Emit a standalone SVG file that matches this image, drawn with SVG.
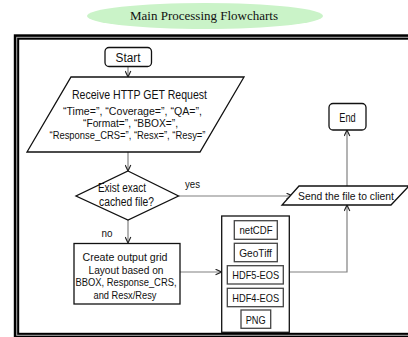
<svg xmlns="http://www.w3.org/2000/svg" width="408" height="337" viewBox="0 0 408 337">
<style>
text{font-family:"Liberation Sans",Arial,sans-serif;fill:#111;text-anchor:middle}
.title{font-family:"Liberation Serif","Times New Roman",serif;font-size:13px}
.n{fill:#fff;stroke:#111;stroke-width:1.3}
.f{fill:#fff;stroke:#444;stroke-width:1.3}
.c{fill:none;stroke:#808080;stroke-width:1.2}
.s11{font-size:11.5px}
.s12{font-size:12.5px}
</style>
<defs>
<marker id="ah" viewBox="0 0 10 10" refX="9.5" refY="5" markerWidth="7" markerHeight="7" orient="auto" markerUnits="userSpaceOnUse">
<path d="M1,1 L9.5,5 L1,9" fill="none" stroke="#222" stroke-width="1.6"/>
</marker>
</defs>
<rect width="408" height="337" fill="#fff"/>
<g id="title">
<ellipse cx="205" cy="16" rx="118" ry="13" fill="#caf3c8"/>
<text class="title" x="204" y="20">Main Processing Flowcharts</text>
</g>
<g id="frame">
<rect x="16.5" y="37" width="420" height="298.5" fill="none" stroke="#000" stroke-width="5.4"/>
<rect x="16.7" y="37.3" width="420" height="298" fill="none" stroke="#b0b0b0" stroke-width="1"/>
</g>
<g id="connectors">
<path class="c" d="M128,67 V77" marker-end="url(#ah)"/>
<path class="c" d="M128,152 V171" marker-end="url(#ah)"/>
<path class="c" d="M178.5,196 H292.5" marker-end="url(#ah)"/>
<path class="c" d="M128,220 V243" marker-end="url(#ah)"/>
<path class="c" d="M180,272 H221.5" marker-end="url(#ah)"/>
<path class="c" d="M289.5,272 H347 V205" marker-end="url(#ah)"/>
<path class="c" d="M347,186 V130" marker-end="url(#ah)"/>
<text class="s11" x="192.5" y="188" textLength="15" lengthAdjust="spacingAndGlyphs">yes</text>
<text class="s11" x="107" y="237" textLength="11" lengthAdjust="spacingAndGlyphs">no</text>
</g>
<g id="start">
<rect class="n" x="105" y="47.5" width="46.5" height="19" rx="4"/>
<text class="s12" x="128" y="62" textLength="25" lengthAdjust="spacingAndGlyphs">Start</text>
</g>
<g id="receive">
<polygon class="n" points="71,77 244,77 200,152 27,152"/>
<text x="139.5" y="99" font-size="13.5" textLength="135" lengthAdjust="spacingAndGlyphs">Receive HTTP GET Request</text>
<text class="s11" x="132.5" y="115" textLength="139" lengthAdjust="spacingAndGlyphs">“Time=”, “Coverage=”, “QA=”,</text>
<text class="s11" x="130.5" y="127" textLength="95" lengthAdjust="spacingAndGlyphs">“Format=”, “BBOX=”,</text>
<text class="s11" x="127.5" y="139" textLength="156" lengthAdjust="spacingAndGlyphs">“Response_CRS=”, “Resx=”, “Resy=”</text>
</g>
<g id="cached">
<polygon class="n" points="128,171 178.5,196 128,220 76,196"/>
<text class="s12" x="122" y="192" textLength="48" lengthAdjust="spacingAndGlyphs">Exist exact</text>
<text class="s12" x="126.5" y="206" textLength="55" lengthAdjust="spacingAndGlyphs">cached file?</text>
</g>
<g id="create">
<rect class="n" x="74" y="243.5" width="106" height="60.5"/>
<text class="s11" x="125" y="261" textLength="85" lengthAdjust="spacingAndGlyphs">Create output grid</text>
<text class="s11" x="126" y="274" textLength="75" lengthAdjust="spacingAndGlyphs">Layout based on</text>
<text class="s11" x="126" y="286" textLength="101" lengthAdjust="spacingAndGlyphs">BBOX, Response_CRS,</text>
<text class="s11" x="125" y="299" textLength="63" lengthAdjust="spacingAndGlyphs">and Resx/Resy</text>
</g>
<g id="formats">
<rect class="n" x="221.7" y="216" width="67.6" height="116.3"/>
<rect class="f" x="234.3" y="220.7" width="43" height="18.6"/>
<text class="s11" x="256" y="234" textLength="33" lengthAdjust="spacingAndGlyphs">netCDF</text>
<rect class="f" x="234.3" y="243.3" width="43" height="18.4"/>
<text class="s11" x="255.5" y="256.5" textLength="32.7" lengthAdjust="spacingAndGlyphs">GeoTiff</text>
<rect class="f" x="227.3" y="265.7" width="56" height="18.3"/>
<text class="s11" x="255.7" y="279" textLength="46.7" lengthAdjust="spacingAndGlyphs">HDF5-EOS</text>
<rect class="f" x="227.3" y="288.3" width="56" height="18.4"/>
<text class="s11" x="255.7" y="301.7" textLength="46.7" lengthAdjust="spacingAndGlyphs">HDF4-EOS</text>
<rect class="f" x="241" y="310" width="29.7" height="18.3"/>
<text class="s11" x="255.7" y="324" textLength="20" lengthAdjust="spacingAndGlyphs">PNG</text>
</g>
<g id="send">
<polygon class="n" points="299,186 409,186 391,205 282,205"/>
<text class="s11" x="346" y="200" textLength="96" lengthAdjust="spacingAndGlyphs">Send the file to client</text>
</g>
<g id="end">
<rect class="n" x="329" y="103.5" width="37" height="26.5" rx="4"/>
<text class="s12" x="347.5" y="122" textLength="16.4" lengthAdjust="spacingAndGlyphs">End</text>
</g>
</svg>
